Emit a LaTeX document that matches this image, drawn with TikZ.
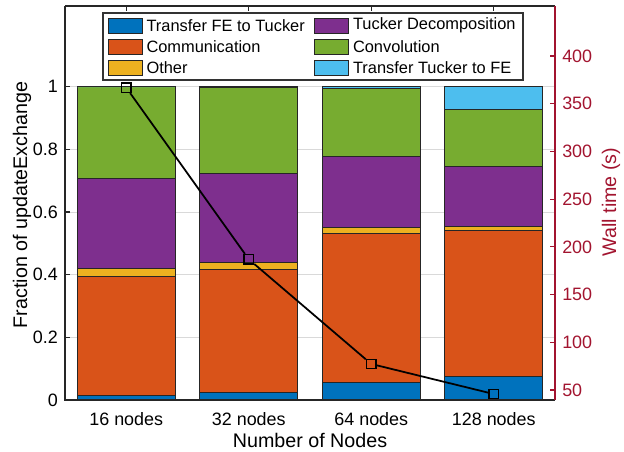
\documentclass[tikz,border=0pt]{standalone}
\usepackage{fontspec}
\setmainfont{Liberation Sans}
\usetikzlibrary{positioning}
\definecolor{tfblue}{RGB}{0,114,189}
\definecolor{commorange}{RGB}{217,83,25}
\definecolor{otheryellow}{RGB}{237,177,32}
\definecolor{tdpurple}{RGB}{126,47,142}
\definecolor{convgreen}{RGB}{119,172,48}
\definecolor{ttcyan}{RGB}{77,190,238}
\definecolor{walltime}{RGB}{162,20,47}

\begin{document}
\begin{tikzpicture}[
x=0.03cm, y=-0.03cm,
seg/.style={draw=black!85, line width=0.5pt},
gridline/.style={black!15, line width=0.8pt},
axisline/.style={black!85, line width=1pt},
ticklabel/.style={font=\fontsize{15.3}{18}\selectfont, inner sep=0pt},
axislabel/.style={font=\fontsize{16.8}{20}\selectfont, inner sep=0pt},
legendtext/.style={font=\fontsize{14}{16}\selectfont, inner sep=0pt},
swatch/.style={draw=black!85, line width=0.5pt, minimum width=1.02cm,
  minimum height=0.45cm, inner sep=0pt},
marker/.style={draw=black, rectangle, minimum size=8pt, inner sep=0pt,
  line width=1.3pt},
trend/.style={black, line width=1.5pt}
]
\useasboundingbox (0,0) rectangle (624,451);

% fraction axis
\begin{scope}[shift={(0.1125cm,-12cm)}, x=3.675cm, y=9.399cm]
\foreach \v in {0.2,0.4,0.6,0.8,1}
  \draw[gridline] (0.5,\v) -- (4.5,\v);
\foreach \i/\a/\b/\c/\d/\e in {1/0.016/0.394/0.420/0.7075/1.0,
    2/0.0255/0.417/0.441/0.7236/0.997, 3/0.056/0.532/0.551/0.7766/0.9936,
    4/0.0755/0.5415/0.556/0.7447/0.928}{
  \path[seg, fill=tfblue] (\i-0.4,0) rectangle (\i+0.4,\a);
  \path[seg, fill=commorange] (\i-0.4,\a) rectangle (\i+0.4,\b);
  \path[seg, fill=otheryellow] (\i-0.4,\b) rectangle (\i+0.4,\c);
  \path[seg, fill=tdpurple] (\i-0.4,\c) rectangle (\i+0.4,\d);
  \path[seg, fill=convgreen] (\i-0.4,\d) rectangle (\i+0.4,\e);
  \path[seg, fill=ttcyan] (\i-0.4,\e) rectangle (\i+0.4,1);
}
\draw[axisline] (0.5,1.2576) -- (0.5,0) -- (4.5,0);
\draw[axisline] (0.5,1.2576) -- (4.5,1.2576);
\draw[walltime, line width=1pt] (4.5,0) -- (4.5,1.2576);
\foreach \v [count=\k] in {0,0.2,0.4,0.6,0.8,1}{
  \draw[axisline] (0.5,\v) -- (0.54,\v);
  \node[ticklabel, anchor=east] (yt\k) at (0.443,\v) {\v};
}
\foreach \n [count=\k] in {16,32,64,128}{
  \draw[axisline] (\k,1.2576) -- (\k,1.2416);
  \node[ticklabel] (xt\k) at (\k,-0.0606) {\n\ nodes};
}
\end{scope}

% wall time axis
\begin{scope}[shift={(0.1125cm,-13.131cm)}, x=3.675cm, y=0.02862cm]
\foreach \w [count=\k] in {50,100,...,400}{
  \draw[walltime, line width=1pt] (4.5,\w) -- (4.46,\w);
  \node[ticklabel, text=walltime, anchor=west] (wt\k) at (4.557,\w) {\w};
}
\foreach \k/\w in {1/366.9, 2/187, 3/77.3, 4/45.8}
  \node[marker] (m\k) at (\k,\w) {};
\draw[trend] (m1) -- (m2) -- (m3) -- (m4);
\end{scope}

\node[axislabel] (xlab) at (310,440) {Number of Nodes};
\node[axislabel, rotate=90] (ylab) at (22,205) {Fraction of updateExchange};
\node[axislabel, rotate=90, text=walltime] (wlab) at (611,202) {Wall time (s)};

% legend
\node[draw=black!80, line width=1.2pt, fill=white, minimum width=12.6cm,
  minimum height=2.01cm] (legend) at (313,46.5) {};
\foreach \n/\c/\t/\x/\y in {1/tfblue/Transfer FE to Tucker/125/25.5,
    2/commorange/Communication/125/47, 3/otheryellow/Other/125/68,
    4/tdpurple/Tucker Decomposition/331.5/25.5, 5/convgreen/Convolution/331.5/47,
    6/ttcyan/Transfer Tucker to FE/331.5/68}{
  \node[swatch, fill=\c] (sw\n) at (\x,\y) {};
  \node[legendtext, right=0.12cm of sw\n] (lg\n) {\t};
}
\end{tikzpicture}
\end{document}
